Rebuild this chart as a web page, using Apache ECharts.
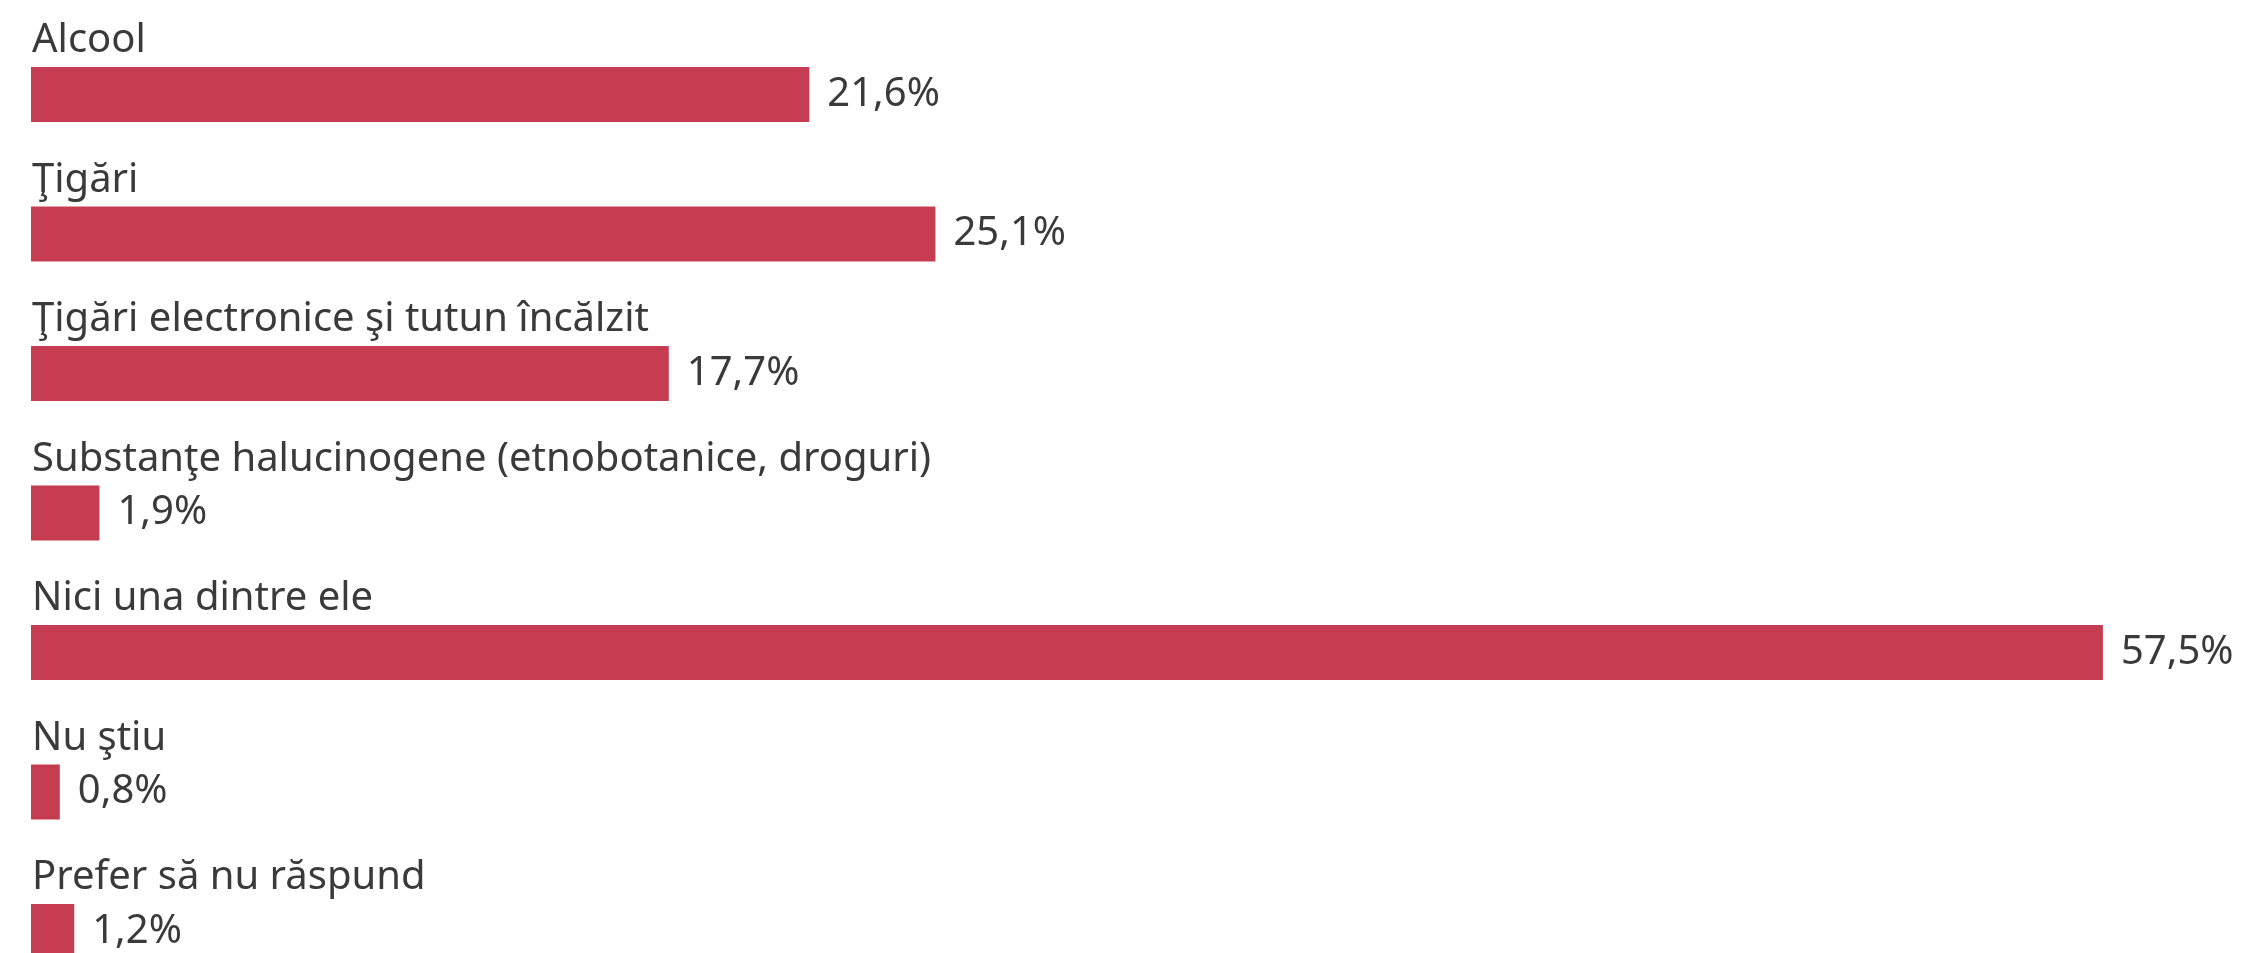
<!DOCTYPE html>
<html>
<head>
<meta charset="utf-8">
<script src="https://cdn.jsdelivr.net/npm/echarts@6/dist/echarts.min.js"></script>
<style>
html,body{margin:0;padding:0;background:#fff;}
#chart{width:2243px;height:953px;}
</style>
</head>
<body>
<div id="chart"></div>
<script>
const categories = [
  "Alcool",
  "\u0162ig\u0103ri",
  "\u0162ig\u0103ri electronice \u015Fi tutun \u00EEnc\u0103lzit",
  "Substan\u0163e halucinogene (etnobotanice, droguri)",
  "Nici una dintre ele",
  "Nu \u015Ftiu",
  "Prefer s\u0103 nu r\u0103spund"
];
const values = [21.6, 25.1, 17.7, 1.9, 57.5, 0.8, 1.2];

const FONT = '"Noto Sans"';
const chart = echarts.init(document.getElementById('chart'));
chart.setOption({
  animation: false,
  backgroundColor: '#ffffff',
  grid: { left: 31, right: 50, top: 94.5, bottom: 21.5 },
  xAxis: { type: 'value', min: 0, max: 60, show: false },
  yAxis: {
    type: 'category', data: categories, inverse: true, boundaryGap: false,
    axisLine: { show: false }, axisTick: { show: false }, axisLabel: { show: false }, splitLine: { show: false }
  },
  series: [
    {
      type: 'bar',
      data: values,
      barWidth: 55,
      itemStyle: { color: '#C63C50' },
      label: {
        show: true, position: 'right', distance: 18,
        fontFamily: FONT, fontWeight: 'normal', fontSize: 40, color: '#3a3a3a',
        formatter: p => String(p.value).replace('.', ',') + '%'
      },
      z: 2
    },
    {
      type: 'bar',
      data: values,
      barWidth: 55,
      barGap: '-100%',
      itemStyle: { color: 'rgba(0,0,0,0)' },
      label: {
        show: true, position: [1, -6], align: 'left', verticalAlign: 'bottom',
        fontFamily: FONT, fontWeight: 'normal', fontSize: 40, color: '#3a3a3a',
        formatter: p => categories[p.dataIndex]
      },
      z: 3,
      silent: true
    }
  ]
});
</script>
</body>
</html>
